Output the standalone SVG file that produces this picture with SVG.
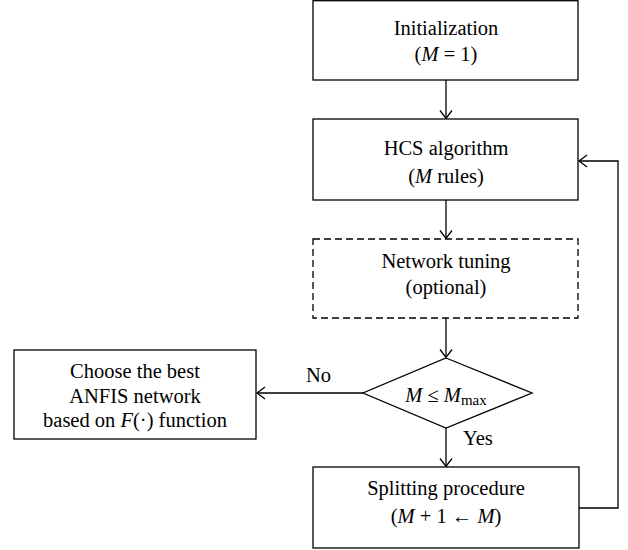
<svg xmlns="http://www.w3.org/2000/svg" width="628" height="550" viewBox="0 0 628 550">
<style>
.box{fill:#fff;stroke:#000;stroke-width:1.3}
.dash{fill:#fff;stroke:#000;stroke-width:1.3;stroke-dasharray:7,4}
.t{font-family:"Liberation Serif","Times New Roman",serif;font-size:20.5px;fill:#000;text-anchor:middle}
.lbl{font-family:"Liberation Serif","Times New Roman",serif;font-size:20.5px;fill:#000}
.i{font-style:italic}
.con{fill:none;stroke:#000;stroke-width:1.3}
</style>
<defs>
<marker id="arr" markerUnits="userSpaceOnUse" markerWidth="16" markerHeight="16" viewBox="-10 -8 12 16" refX="0" refY="0" orient="auto">
<path d="M-8,-6 L0,0 L-8,6" fill="none" stroke="#000" stroke-width="1.3"/>
</marker>
</defs>
<g id="connectors">
<line class="con" x1="446" y1="80" x2="446" y2="118.5" marker-end="url(#arr)"/>
<line class="con" x1="446" y1="200" x2="446" y2="238.5" marker-end="url(#arr)"/>
<line class="con" x1="446" y1="318" x2="446" y2="357.5" marker-end="url(#arr)"/>
<line class="con" x1="363" y1="393" x2="257" y2="393" marker-end="url(#arr)"/>
<line class="con" x1="446" y1="428" x2="446" y2="466.5" marker-end="url(#arr)"/>
<polyline class="con" points="579,508 618,508 618,161 579,161" marker-end="url(#arr)"/>
<text class="lbl" x="306" y="382">No</text>
<text class="lbl" x="463" y="445">Yes</text>
</g>
<g id="init">
<rect class="box" x="313" y="0.7" width="265" height="79.3"/>
<text class="t" x="446" y="35">Initialization</text>
<text class="t" x="446" y="61">(<tspan class="i">M</tspan> = 1)</text>
</g>
<g id="hcs">
<rect class="box" x="313" y="119" width="265" height="81"/>
<text class="t" x="446" y="155">HCS algorithm</text>
<text class="t" x="446" y="183">(<tspan class="i">M</tspan> rules)</text>
</g>
<g id="tuning">
<rect class="dash" x="313" y="239" width="265" height="79"/>
<text class="t" x="446" y="268">Network tuning</text>
<text class="t" x="446" y="294">(optional)</text>
</g>
<g id="decision">
<polygon class="box" points="446,358 532,393 446,428 363,393"/>
<text class="t" x="446" y="402"><tspan class="i">M</tspan> ≤ <tspan class="i">M</tspan><tspan font-size="15" dy="3">max</tspan></text>
</g>
<g id="choose">
<rect class="box" x="14" y="350" width="242" height="89"/>
<text class="t" x="135" y="378">Choose the best</text>
<text class="t" x="135" y="403">ANFIS network</text>
<text class="t" x="135" y="427">based on <tspan class="i">F</tspan>(·) function</text>
</g>
<g id="split">
<rect class="box" x="313" y="467" width="266" height="81"/>
<text class="t" x="446" y="495">Splitting procedure</text>
<text class="t" x="446" y="523">(<tspan class="i">M</tspan> + 1 ← <tspan class="i">M</tspan>)</text>
</g>
</svg>
